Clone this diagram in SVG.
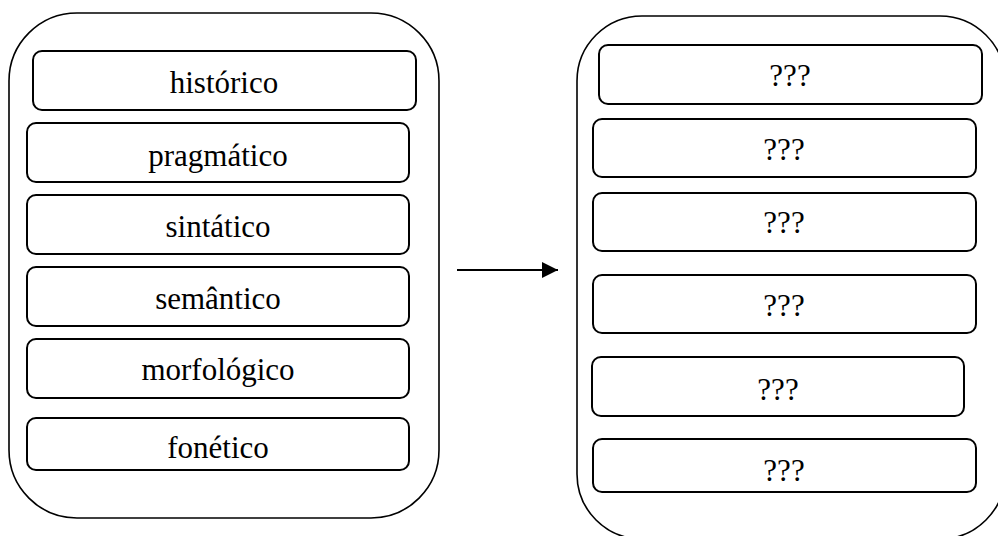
<svg xmlns="http://www.w3.org/2000/svg" width="998" height="536" viewBox="0 0 998 536">
<style>
.outer{fill:#fff;stroke:#000;stroke-width:1.6}
.box{fill:#fff;stroke:#000;stroke-width:2}
.lbl{font-family:"Liberation Serif","Times New Roman",serif;font-size:31px;fill:#000;text-anchor:middle}
</style>
<defs>
<marker id="ah" markerWidth="16" markerHeight="16" refX="16" refY="8" orient="auto" markerUnits="userSpaceOnUse">
<path d="M0,0 L16,8 L0,16 Z" fill="#000"/>
</marker>
</defs>
<rect width="998" height="536" fill="#fff"/>
<g id="left-container">
<rect class="outer" x="9" y="13" width="430" height="505" rx="68" ry="68"/>
</g>
<g id="historico"><rect class="box" x="33" y="51" width="383" height="59" rx="9"/><text class="lbl" x="224" y="93">histórico</text></g>
<g id="pragmatico"><rect class="box" x="27" y="123" width="382" height="59" rx="9"/><text class="lbl" x="218" y="166">pragmático</text></g>
<g id="sintatico"><rect class="box" x="27" y="195" width="382" height="59" rx="9"/><text class="lbl" x="218" y="237">sintático</text></g>
<g id="semantico"><rect class="box" x="27" y="267" width="382" height="59" rx="9"/><text class="lbl" x="218" y="309">semântico</text></g>
<g id="morfologico"><rect class="box" x="27" y="339" width="382" height="59" rx="9"/><text class="lbl" x="218" y="380">morfológico</text></g>
<g id="fonetico"><rect class="box" x="27" y="418" width="382" height="52" rx="9"/><text class="lbl" x="218" y="458">fonético</text></g>
<g id="right-container">
<rect class="outer" x="577" y="16" width="428" height="523" rx="65" ry="65"/>
</g>
<g id="q1"><rect class="box" x="599" y="45" width="383" height="59" rx="9"/><text class="lbl" x="790" y="86">???</text></g>
<g id="q2"><rect class="box" x="593" y="119" width="383" height="58" rx="9"/><text class="lbl" x="784" y="160">???</text></g>
<g id="q3"><rect class="box" x="593" y="193" width="383" height="58" rx="9"/><text class="lbl" x="784" y="233">???</text></g>
<g id="q4"><rect class="box" x="593" y="275" width="383" height="58" rx="9"/><text class="lbl" x="784" y="316">???</text></g>
<g id="q5"><rect class="box" x="592" y="357" width="372" height="59" rx="9"/><text class="lbl" x="778" y="400">???</text></g>
<g id="q6"><rect class="box" x="593" y="439" width="383" height="53" rx="9"/><text class="lbl" x="784" y="481">???</text></g>
<g id="connectors">
<line x1="457" y1="270" x2="558" y2="270" stroke="#000" stroke-width="2" marker-end="url(#ah)"/>
</g>
</svg>
